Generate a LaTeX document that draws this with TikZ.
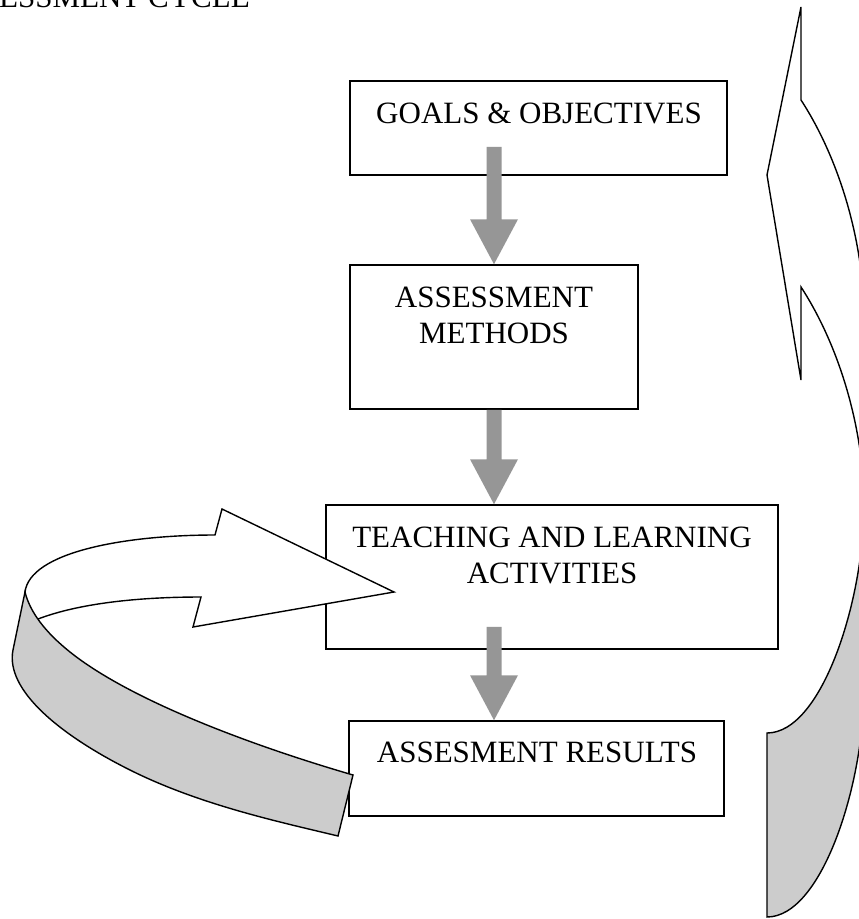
\documentclass[tikz,border=0pt]{standalone}
\usepackage{fontspec}
\setmainfont{Liberation Serif}
\usetikzlibrary{calc}
\definecolor{arrowgrey}{RGB}{150,150,150}
\definecolor{ribbongrey}{RGB}{204,204,204}
\newcommand\garrow[2]{%
  \fill[arrowgrey] ($(#1)+(-7.5,0)$) -- ($(#2)+(-7.5,-45)$) -- ($(#2)+(-24,-45)$) -- (#2)
    -- ($(#2)+(24,-45)$) -- ($(#2)+(7.5,-45)$) -- ($(#1)+(7.5,0)$) -- cycle;}
\begin{document}
\begin{tikzpicture}[x=1pt,y=-1pt,
  box/.style={draw=black,line width=1.5pt,fill=white,rectangle,inner sep=0pt},
  boxtext/.style={inner sep=0pt,font=\fontsize{31pt}{36pt}\selectfont,align=center,anchor=north},
  ribbon/.style={draw=black,line width=1.4pt,line join=miter}]
\useasboundingbox (0,0) rectangle (859,919);
\begin{scope}
\clip (0,0) rectangle (859,919);
% title (cropped at the top of the page)
\node[inner sep=0pt,anchor=base west,font=\fontsize{31pt}{36pt}\selectfont] (title) at (-1,7) {ESSMENT CYCLE};

% boxes
\node[box,minimum width=377pt,minimum height=94pt] (goals) at (538.5,128) {};
\node[box,minimum width=288pt,minimum height=144pt] (methods) at (494,337) {};
\node[box,minimum width=452pt,minimum height=144pt] (teach) at (552,577) {};
\node[box,minimum width=375pt,minimum height=95pt] (results) at (536.5,768.5) {};

% box texts
\node[boxtext] (goalsT) at (539,102.5) {GOALS \& OBJECTIVES};
\node[boxtext] (methodsT) at (494,286.5) {ASSESSMENT\\METHODS};
\node[boxtext] (teachT) at (552,527) {TEACHING AND LEARNING\\ACTIVITIES};
\node[boxtext] (resultsT) at (537,742) {ASSESMENT RESULTS};

% left curved arrow: white front face
\path[ribbon,fill=white] (38,619) .. controls (80,603) and (140,597) .. (201,597)
  -- (193,627) -- (394,592) -- (222,509) -- (215,535)
  .. controls (125,535) and (30,552) .. (25,592);
% left curved arrow: grey back face
\path[ribbon,fill=ribbongrey] (25,592) -- (13,650)
  .. controls (5,690) and (60,735) .. (130,770)
  .. controls (200,805) and (280,822) .. (338,836) -- (353,775)
  .. controls (250,745) and (130,700) .. (70,652)
  .. controls (45,632) and (30,612) .. (25,592) -- cycle;

% right curved arrow: white front face with head
\path[ribbon,fill=white] (801,287) -- (801,380) -- (767,175) -- (801,7) -- (801,100)
  .. controls (840,160) and (864,243) .. (864,318) -- (950,318) -- (950,505) -- (864,505)
  .. controls (864,430) and (840,347) .. (801,287) -- cycle;
% right curved arrow: grey back face
\path[ribbon,fill=ribbongrey] (864,505) .. controls (864,600) and (822,733) .. (767,733)
  -- (767,917) .. controls (822,917) and (864,784) .. (864,689)
  -- (950,689) -- (950,505) -- cycle;

% grey block arrows between the boxes
\coordinate (a1s) at ($(goals.south -| methods.north)+(0,-29)$);
\coordinate (a1e) at (methods.north);
\coordinate (a2s) at (methods.south);
\coordinate (a2e) at (teach.north -| methods.north);
\coordinate (a3s) at ($(teach.south -| methods.north)+(0,-23)$);
\coordinate (a3e) at (results.north -| methods.north);
\garrow{a1s}{a1e}
\garrow{a2s}{a2e}
\garrow{a3s}{a3e}
\end{scope}
\end{tikzpicture}
\end{document}
